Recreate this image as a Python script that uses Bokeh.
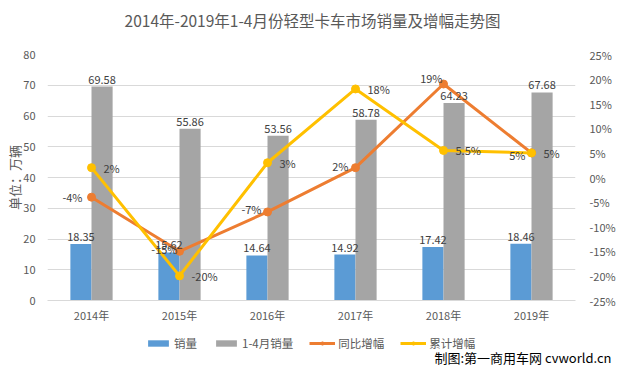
from bokeh.plotting import figure
from bokeh.layouts import column
from bokeh.models import (ColumnDataSource, FactorRange, Range1d, LinearAxis, FixedTicker,
                          PrintfTickFormatter, Legend, LegendItem, Label)
from bokeh.transform import dodge
from bokeh.embed import file_html
from bokeh.resources import INLINE
from bokeh.core.properties import value

# ---- data ----
years = ["2014年", "2015年", "2016年", "2017年", "2018年", "2019年"]
apr_sales = [18.35, 15.62, 14.64, 14.92, 17.42, 18.46]      # 销量
ytd_sales = [69.58, 55.86, 53.56, 58.78, 64.23, 67.68]      # 1-4月销量
yoy_growth = [-4, -15, -7, 2, 19, 5]                        # 同比增幅 (%)
ytd_growth = [2, -20, 3, 18, 5.5, 5]                        # 累计增幅 (%)
left_ticks = [0, 10, 20, 30, 40, 50, 60, 70, 80]
right_ticks = [-25, -20, -15, -10, -5, 0, 5, 10, 15, 20, 25]
title_text = "2014年-2019年1-4月份轻型卡车市场销量及增幅走势图"
credit_text = "制图:第一商用车网 cvworld.cn"

# ---- styles ----
FONT = "Noto Sans CJK SC"
BLUE, GRAY, ORANGE, YELLOW = "#5b9bd5", "#a5a5a5", "#ed7d31", "#ffc000"
TXT = "#595959"
LBL = "#404040"
yoy_dx = [-9, -2, -6, -7, -1, -6]
yoy_dy = [0, -2, -3, -2, -6, 2]

src = ColumnDataSource(dict(
    year=years, apr=apr_sales, ytd=ytd_sales, yoy=yoy_growth, cum=ytd_growth,
    apr_t=[f"{v:.2f}" for v in apr_sales], ytd_t=[f"{v:.2f}" for v in ytd_sales],
    yoy_t=[f"{v:g}%" for v in yoy_growth], cum_t=[f"{v:g}%" for v in ytd_growth],
    yoy_dx=yoy_dx, yoy_dy=yoy_dy,
))

# ---- title strip ----
t = figure(width=616, height=38, x_range=Range1d(0, 1), y_range=Range1d(0, 1),
           output_backend="svg", toolbar_location=None, min_border=0)
t.frame_align = False
t.axis.visible = False
t.grid.visible = False
t.outline_line_color = None
t.add_layout(Label(x=312, y=19, x_units="screen", y_units="screen", text=title_text,
                   text_align="center", text_baseline="middle",
                   text_font=FONT, text_font_size="15.5px", text_color=TXT))

# ---- main chart ----
p = figure(frame_width=528, frame_height=246, x_range=FactorRange(*years), y_range=Range1d(0, 80),
           output_backend="svg", toolbar_location=None,
           min_border_left=47, min_border_right=41, min_border_top=16, min_border_bottom=27)
p.extra_y_ranges = {"pct": Range1d(-25, 25)}
p.outline_line_color = None
p.background_fill_color = "white"
p.border_fill_color = "white"

b1 = p.vbar(x=dodge("year", -0.12, range=p.x_range), top="apr", width=0.24, source=src,
            fill_color=BLUE, line_color=None)
b2 = p.vbar(x=dodge("year", 0.12, range=p.x_range), top="ytd", width=0.24, source=src,
            fill_color=GRAY, line_color=None)

p.line(x="year", y="yoy", y_range_name="pct", source=src, line_color=ORANGE, line_width=3)
p.scatter(x="year", y="yoy", y_range_name="pct", source=src, size=8,
          fill_color=ORANGE, line_color=ORANGE)
p.line(x="year", y="cum", y_range_name="pct", source=src, line_color=YELLOW, line_width=3)
p.scatter(x="year", y="cum", y_range_name="pct", source=src, size=8,
          fill_color=YELLOW, line_color=YELLOW)

p.text(x=dodge("year", -0.12, range=p.x_range), y="apr", text="apr_t", source=src,
       text_align="center", text_baseline="bottom", y_offset=-3,
       text_font=value(FONT), text_font_size="11px", text_color=LBL)
p.text(x=dodge("year", 0.12, range=p.x_range), y="ytd", text="ytd_t", source=src,
       text_align="center", text_baseline="bottom", y_offset=-3,
       text_font=value(FONT), text_font_size="11px", text_color=LBL)
p.text(x="year", y="yoy", text="yoy_t", y_range_name="pct", source=src,
       x_offset="yoy_dx", y_offset="yoy_dy",
       text_align="right", text_baseline="middle",
       text_font=value(FONT), text_font_size="11px", text_color=LBL)
p.text(x="year", y="cum", text="cum_t", y_range_name="pct", source=src,
       x_offset=12, text_align="left", text_baseline="middle",
       text_font=value(FONT), text_font_size="11px", text_color=LBL)

for ax in [p.xaxis[0], p.yaxis[0]]:
    ax.major_tick_line_color = None
    ax.minor_tick_line_color = None
    ax.major_label_text_font = FONT
    ax.major_label_text_font_size = "11px"
    ax.major_label_text_color = TXT
p.xaxis.axis_line_color = "#d9d9d9"
p.xaxis.major_label_standoff = 0
p.yaxis.axis_line_color = None
p.yaxis.ticker = FixedTicker(ticks=left_ticks)
p.yaxis.major_label_standoff = 6
p.yaxis.axis_label = "单位：万辆"
p.yaxis.axis_label_text_font = FONT
p.yaxis.axis_label_text_font_size = "13px"
p.yaxis.axis_label_text_font_style = "normal"
p.yaxis.axis_label_text_color = TXT
p.yaxis.axis_label_standoff = -4

rax = LinearAxis(y_range_name="pct", ticker=FixedTicker(ticks=right_ticks),
                 formatter=PrintfTickFormatter(format="%d%%"),
                 axis_line_color=None, major_tick_line_color=None, minor_tick_line_color=None,
                 major_label_text_font=FONT, major_label_text_font_size="11px",
                 major_label_text_color=TXT, major_label_standoff=8)
p.add_layout(rax, "right")

p.xgrid.grid_line_color = None
p.ygrid.grid_line_color = "#d9d9d9"
p.ygrid.ticker = FixedTicker(ticks=left_ticks)

# ---- legend strip + credit (legend proxies use the same data, outside the strip's view) ----
q = figure(width=616, height=40, x_range=FactorRange(*years), y_range=Range1d(200, 300),
           output_backend="svg", toolbar_location=None, min_border=0)
q.frame_align = False
q.axis.visible = False
q.grid.visible = False
q.outline_line_color = None
q.border_fill_color = "white"
k1 = q.vbar(x="year", top="apr", width=0.24, source=src, fill_color=BLUE, line_color=None)
k2 = q.vbar(x="year", top="ytd", width=0.24, source=src, fill_color=GRAY, line_color=None)
k3 = q.line(x="year", y="yoy", source=src, line_color=ORANGE, line_width=3)
k3m = q.scatter(x="year", y="yoy", source=src, size=7, fill_color=ORANGE, line_color=ORANGE)
k4 = q.line(x="year", y="cum", source=src, line_color=YELLOW, line_width=3)
k4m = q.scatter(x="year", y="cum", source=src, size=7, fill_color=YELLOW, line_color=YELLOW)

legend = Legend(items=[
    LegendItem(label="销量", renderers=[k1]),
    LegendItem(label="1-4月销量", renderers=[k2]),
    LegendItem(label="同比增幅", renderers=[k3, k3m]),
    LegendItem(label="累计增幅", renderers=[k4, k4m]),
], orientation="horizontal", location=(145, 16),
    label_text_font=FONT, label_text_font_size="11.5px", label_text_color=TXT,
    glyph_width=26, glyph_height=8, label_standoff=3, spacing=16,
    padding=2, margin=0, border_line_color=None, background_fill_alpha=0)
q.add_layout(legend)

q.add_layout(Label(x=611, y=10, x_units="screen", y_units="screen", text=credit_text,
                   text_align="right", text_baseline="middle",
                   text_font=FONT, text_font_size="13px", text_color="#000000"))

open("out.html", "w").write(file_html(column(t, p, q, spacing=0), INLINE))
